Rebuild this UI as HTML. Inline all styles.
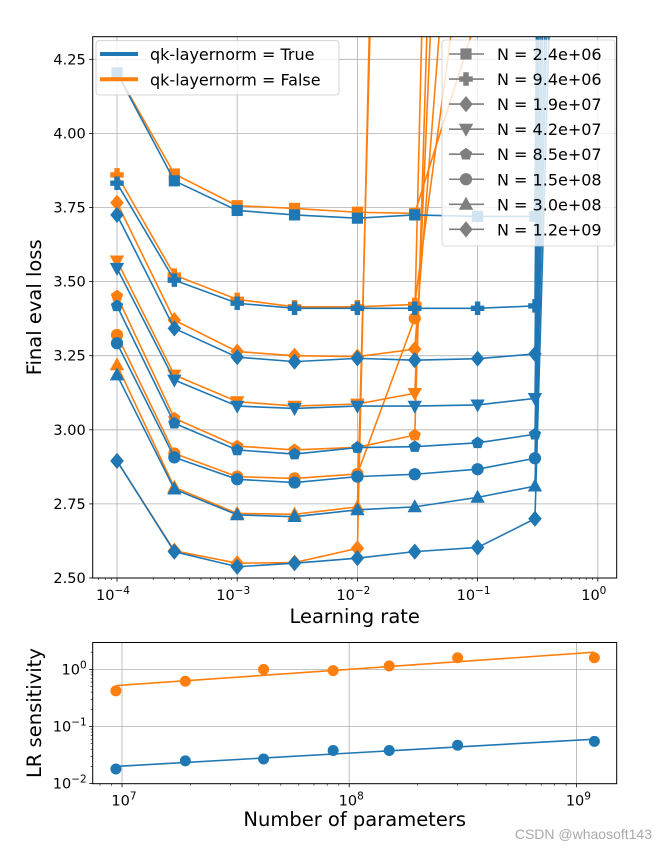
<!DOCTYPE html>
<html><head><meta charset="utf-8"><style>
html,body{margin:0;padding:0;background:#fff;}
svg{display:block;font-family:"DejaVu Sans","Liberation Sans",sans-serif;}
</style></head><body>
<svg id="fig" width="664" height="850" viewBox="0 0 664 850" xmlns="http://www.w3.org/2000/svg"></svg>
<script>
// ---------- data ----------
const lrs = [1e-4, 3e-4, 1e-3, 3e-3, 1e-2, 3e-2, 1e-1, 3e-1, 1e0];
const modelSizes = ["2.4e+06","9.4e+06","1.9e+07","4.2e+07","8.5e+07","1.5e+08","3.0e+08","1.2e+09"];
const markers = ["square","plus","diamond","tridown","pentagon","circle","triup","diamond"];
const lossTrue_24e6 = [4.204,3.84,3.74,3.725,3.714,3.725,3.72,3.72,30];
const lossTrue_94e6 = [3.832,3.505,3.427,3.41,3.41,3.41,3.41,3.418,25];
const lossTrue_19e7 = [3.725,3.342,3.245,3.23,3.241,3.235,3.24,3.256,20];
const lossTrue_42e7 = [3.545,3.168,3.08,3.072,3.08,3.08,3.084,3.106,16];
const lossTrue_85e7 = [3.418,3.022,2.932,2.918,2.94,2.943,2.956,2.985,14];
const lossTrue_15e8 = [3.292,2.907,2.833,2.822,2.842,2.85,2.867,2.904,12];
const lossTrue_30e8 = [3.185,2.80,2.713,2.707,2.73,2.74,2.772,2.81,11];
const lossTrue_12e9 = [2.895,2.589,2.538,2.55,2.567,2.589,2.603,2.70,10];
const lossFalse_24e6 = [4.204,3.863,3.756,3.747,3.734,3.73,4.4,null,null];
const lossFalse_94e6 = [3.86,3.522,3.44,3.415,3.415,3.423,5.0,null,null];
const lossFalse_19e7 = [3.766,3.37,3.264,3.25,3.247,3.272,6.0,null,null];
const lossFalse_42e7 = [3.57,3.185,3.095,3.08,3.087,3.123,8.0,null,null];
const lossFalse_85e7 = [3.451,3.039,2.945,2.932,2.941,2.982,10.0,null,null];
const lossFalse_15e8 = [3.32,2.92,2.842,2.836,2.851,3.376,12.0,null,null];
const lossFalse_30e8 = [3.219,2.806,2.718,2.715,2.74,10.0,null,null,null];
const lossFalse_12e9 = [2.895,2.592,2.55,2.552,2.60,11.0,null,null,null];
const lossTrue = [lossTrue_24e6,lossTrue_94e6,lossTrue_19e7,lossTrue_42e7,lossTrue_85e7,lossTrue_15e8,lossTrue_30e8,lossTrue_12e9];
const lossFalse = [lossFalse_24e6,lossFalse_94e6,lossFalse_19e7,lossFalse_42e7,lossFalse_85e7,lossFalse_15e8,lossFalse_30e8,lossFalse_12e9];
const yTicksMain = [2.50,2.75,3.00,3.25,3.50,3.75,4.00,4.25];
const xTickExpMain = [-4,-3,-2,-1,0];
// bottom plot
const params = [9.4e6,1.9e7,4.2e7,8.5e7,1.5e8,3.0e8,1.2e9];
const sensFalse = [0.42,0.62,1.0,0.95,1.15,1.6,1.6];
const sensTrue = [0.018,0.025,0.027,0.038,0.038,0.047,0.055];
const fitFalse = [0.52,2.0];
const fitTrue = [0.020,0.060];
const xTickExpBot = [7,8,9];
const yTickExpBot = [-2,-1,0];

// ---------- helpers ----------
const NS="http://www.w3.org/2000/svg";
const svg=document.getElementById('fig');
function mk(tag,attrs,parent){const e=document.createElementNS(NS,tag);for(const k in attrs)e.setAttribute(k,attrs[k]);(parent||svg).appendChild(e);return e;}
const BLUE="#1f77b4", ORANGE="#ff7f0e", GRID="#b0b0b0";

const M={l:92.7,r:616.7,t:36.7,b:578};
const xDec=120.2, x0=117;
function xMain(v){return x0+(Math.log10(v)+4)*xDec;}
function yMain(v){return 578-(v-2.5)*296.4;}
const B={l:92.7,r:616.7,t:642.5,b:783.7};
function xBot(v){return 122+(Math.log10(v)-7)*227.2;}
function yBot(v){return 669.4-Math.log10(v)*57.1;}

const defs=mk('defs',{});
const cp=mk('clipPath',{id:'cm'},defs); mk('rect',{x:M.l,y:M.t,width:M.r-M.l,height:M.b-M.t},cp);
const cb=mk('clipPath',{id:'cb'},defs); mk('rect',{x:B.l,y:B.t,width:B.r-B.l,height:B.b-B.t},cb);

const gMain=mk('g',{});


yTicksMain.forEach(v=>{
  const y=yMain(v);
  const gl=mk('line',{x1:M.l,x2:M.r,y1:y,y2:y,stroke:GRID,'stroke-width':0.8},gMain);
  
  
  mk('line',{x1:M.l-3.5,x2:M.l,y1:y,y2:y,stroke:'#000','stroke-width':0.8},gMain);
  const t=mk('text',{x:M.l-7,y:y+5,'text-anchor':'end','font-size':14.5,fill:'#000'},gMain);
  t.textContent=v.toFixed(2);
  
  
});
xTickExpMain.forEach(e=>{
  const x=xMain(Math.pow(10,e));
  const gl=mk('line',{x1:x,x2:x,y1:M.t,y2:M.b,stroke:GRID,'stroke-width':0.8},gMain);
  
  
  mk('line',{x1:x,x2:x,y1:M.b,y2:M.b+3.5,stroke:'#000','stroke-width':0.8},gMain);
  const t=mk('text',{x:x-4,y:M.b+22,'text-anchor':'middle','font-size':14.5},gMain);
  t.innerHTML='10<tspan dy="-6" font-size="10.5">'+(e<0?'\u2212'+(-e):e)+'</tspan>';
  
  
});
for(let e=-5;e<=0;e++)for(let m=2;m<=9;m++){const x=xMain(m*Math.pow(10,e));if(x>M.l&&x<M.r)mk('line',{x1:x,x2:x,y1:M.b,y2:M.b+2,stroke:'#000','stroke-width':0.6},gMain);}

function marker(g,type,x,y,color,s){
  let e;
  if(type==='square')e=mk('rect',{x:x-s*0.62,y:y-s*0.62,width:s*1.24,height:s*1.24,fill:color},g);
  else if(type==='circle')e=mk('circle',{cx:x,cy:y,r:s*0.68,fill:color},g);
  else if(type==='diamond')e=mk('polygon',{points:`${x},${y-s*0.9} ${x+s*0.75},${y} ${x},${y+s*0.9} ${x-s*0.75},${y}`,fill:color},g);
  else if(type==='triup')e=mk('polygon',{points:`${x},${y-s*0.85} ${x+s*0.8},${y+s*0.6} ${x-s*0.8},${y+s*0.6}`,fill:color},g);
  else if(type==='tridown')e=mk('polygon',{points:`${x},${y+s*0.85} ${x+s*0.8},${y-s*0.6} ${x-s*0.8},${y-s*0.6}`,fill:color},g);
  else if(type==='pentagon'){let p=[];for(let i=0;i<5;i++){const a=-Math.PI/2+i*2*Math.PI/5;p.push((x+s*0.72*Math.cos(a))+','+(y+s*0.72*Math.sin(a)));}e=mk('polygon',{points:p.join(' '),fill:color},g);}
  else if(type==='plus'){const w=s*0.3,h=s*0.75;e=mk('path',{d:`M${x-w},${y-h}h${2*w}v${h-w}h${h-w}v${2*w}h${-(h-w)}v${h-w}h${-2*w}v${-(h-w)}h${-(h-w)}v${-2*w}h${h-w}z`,fill:color},g);}
  return e;
}
function drawSeries(arr,color,idx,label){
  const g=mk('g',{'clip-path':'url(#cm)'});
  
  
  let pts=[];
  arr.forEach((v,i)=>{if(v!==null)pts.push([xMain(lrs[i]),yMain(v)]);});
  mk('polyline',{points:pts.map(p=>p.join(',')).join(' '),fill:'none',stroke:color,'stroke-width':1.6},g);
  pts.forEach(p=>{const m=marker(g,markers[idx],p[0],p[1],color,9);
    
    });
}
lossFalse.forEach((a,i)=>drawSeries(a,ORANGE,i,'series-false-'+modelSizes[i]));
lossTrue.forEach((a,i)=>drawSeries(a,BLUE,i,'series-true-'+modelSizes[i]));
mk('rect',{x:M.l,y:M.t,width:M.r-M.l,height:M.b-M.t,fill:'none',stroke:'#000','stroke-width':1});

const lg1=mk('g',{});


mk('rect',{x:96,y:40.7,width:243,height:54.3,rx:3,fill:'#fff','fill-opacity':0.8,stroke:'#ccc','stroke-width':0.8},lg1);
[['qk-layernorm = True',BLUE,54],['qk-layernorm = False',ORANGE,79.3]].forEach(d=>{
  mk('line',{x1:100,x2:138,y1:d[2],y2:d[2],stroke:d[1],'stroke-width':4},lg1);
  const t=mk('text',{x:150,y:d[2]+6,'font-size':16},lg1);t.textContent=d[0];
  
  
});
const lg2=mk('g',{});


mk('rect',{x:442,y:40,width:173,height:206,rx:3,fill:'#fff','fill-opacity':0.8,stroke:'#ccc','stroke-width':0.8},lg2);
modelSizes.forEach((s,i)=>{
  const y=54+i*25.05;
  mk('line',{x1:449,x2:484,y1:y,y2:y,stroke:'#7f7f7f','stroke-width':1.6},lg2);
  marker(lg2,markers[i],466,y,'#7f7f7f',9);
  const t=mk('text',{x:497,y:y+6,'font-size':16},lg2);t.textContent='N = '+s;
  
  
});

let t=mk('text',{x:0,y:0,'font-size':19.5,'text-anchor':'middle',transform:`translate(41,${(M.t+M.b)/2}) rotate(-90)`});t.textContent='Final eval loss';


t=mk('text',{x:(M.l+M.r)/2,y:623,'font-size':19.5,'text-anchor':'middle'});t.textContent='Learning rate';



const gB=mk('g',{});


yTickExpBot.forEach(e=>{
  const y=yBot(Math.pow(10,e));
  if(e>-2)mk('line',{x1:B.l,x2:B.r,y1:y,y2:y,stroke:GRID,'stroke-width':0.8},gB);
  mk('line',{x1:B.l-3.5,x2:B.l,y1:y,y2:y,stroke:'#000','stroke-width':0.8},gB);
  const tt=mk('text',{x:B.l-6,y:y+5,'text-anchor':'end','font-size':14.5},gB);
  tt.innerHTML='10<tspan dy="-6" font-size="10.5">'+(e<0?'\u2212'+(-e):e)+'</tspan>';
  
  
});
xTickExpBot.forEach(e=>{
  const x=xBot(Math.pow(10,e));
  mk('line',{x1:x,x2:x,y1:B.t,y2:B.b,stroke:GRID,'stroke-width':0.8},gB);
  mk('line',{x1:x,x2:x,y1:B.b,y2:B.b+3.5,stroke:'#000','stroke-width':0.8},gB);
  const tt=mk('text',{x:x+2,y:B.b+22,'text-anchor':'middle','font-size':14.5},gB);
  tt.innerHTML='10<tspan dy="-6" font-size="10.5">'+e+'</tspan>';
  
  
});
for(let e=6;e<=9;e++)for(let m=2;m<=9;m++){const x=xBot(m*Math.pow(10,e));if(x>B.l&&x<B.r)mk('line',{x1:x,x2:x,y1:B.b,y2:B.b+2,stroke:'#000','stroke-width':0.6},gB);}
for(let e=-2;e<=0;e++)for(let m=2;m<=9;m++){const y=yBot(m*Math.pow(10,e));if(y>B.t&&y<B.b)mk('line',{x1:B.l-2,x2:B.l,y1:y,y2:y,stroke:'#000','stroke-width':0.6},gB);}
function botSeries(vals,fit,color,name){
  const g=mk('g',{'clip-path':'url(#cb)'});
  
  
  mk('line',{x1:xBot(params[0]),y1:yBot(fit[0]),x2:xBot(params[params.length-1]),y2:yBot(fit[1]),stroke:color,'stroke-width':1.6},g);
  vals.forEach((v,i)=>{const c=mk('circle',{cx:xBot(params[i]),cy:yBot(v),r:5.5,fill:color},g);
    
    });
}
botSeries(sensFalse,fitFalse,ORANGE,'sensitivity-false');
botSeries(sensTrue,fitTrue,BLUE,'sensitivity-true');
mk('rect',{x:B.l,y:B.t,width:B.r-B.l,height:B.b-B.t,fill:'none',stroke:'#000','stroke-width':1});
t=mk('text',{x:0,y:0,'font-size':19.5,'text-anchor':'middle',transform:`translate(41,${(B.t+B.b)/2}) rotate(-90)`});t.textContent='LR sensitivity';


t=mk('text',{x:(B.l+B.r)/2,y:826,'font-size':19.5,'text-anchor':'middle'});t.textContent='Number of parameters';


t=mk('text',{x:652,y:839,'font-size':14,'text-anchor':'end',fill:'#aaa','font-family':'Liberation Sans, sans-serif'});t.textContent='CSDN @whaosoft143';


</script>
</body></html>
